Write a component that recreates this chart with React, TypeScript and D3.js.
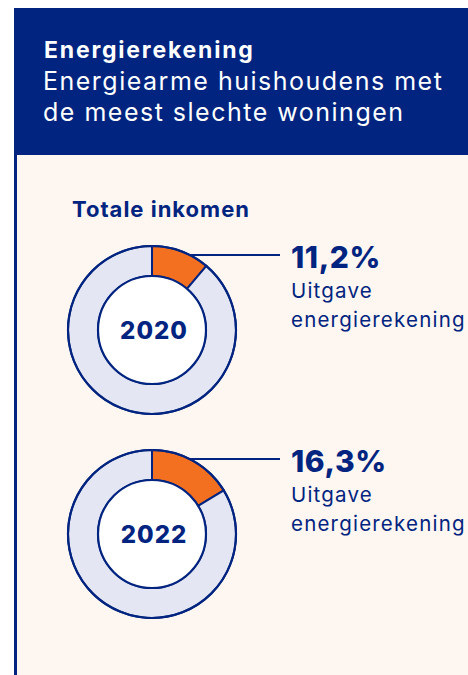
import * as React from 'react'
import * as d3 from 'd3'

// data
const years = ['2020', '2022']
const shares = [11.2, 16.3] // % of total income spent on the energy bill
const labelLines = ['Uitgave', 'energierekening']
const title = 'Energierekening'
const subtitleLines = ['Energiearme huishoudens met', 'de meest slechte woningen']
const panelTitle = 'Totale inkomen'

const W = 468
const H = 675
const NAVY = '#00247f'
const ORANGE = '#f37021'
const RING = '#e4e7f3'
const PANEL = '#fdf6f1'
const FONT = 'Inter, "Open Sans", sans-serif'

const nl = d3.formatLocale({decimal: ',', thousands: '.', grouping: [3], currency: ['€', '']})
const pct = nl.format('.1f')

export default function App() {
  const cx = 152
  const rOuter = 84
  const rInner = 54
  const y = d3.scalePoint<string>().domain(years).range([330, 534])

  const pie = d3.pie<number>().sort(null).value(d => d)
  const arc = d3.arc<d3.PieArcDatum<number>>().innerRadius(rInner).outerRadius(rOuter)

  return (
    <div style={{position: 'absolute', left: 0, top: 0}}>
      <svg width={W} height={H} style={{display: 'block', fontFamily: FONT}}>
        <rect width={W} height={H} fill="#fff" />
        {/* panel */}
        <rect x={14} y={155} width={W - 14} height={H - 155} fill={PANEL} />
        <rect x={14} y={155} width={3} height={H - 155} fill={NAVY} />
        {/* header */}
        <rect x={14} y={8} width={W - 14} height={147} fill={NAVY} />
        <text x={44} y={58} fill="#fff" fontSize={23} fontWeight={700} letterSpacing={1.8}>{title}</text>
        {subtitleLines.map((t, i) => (
          <text key={t} x={43} y={90 + i * 31} fill="#fff" fontSize={25} fontWeight={400} letterSpacing={1.5}>{t}</text>
        ))}

        <text x={72} y={217} fill={NAVY} fontSize={22} fontWeight={700} letterSpacing={1}>{panelTitle}</text>

        {years.map((yr, i) => {
          const cy = y(yr) as number
          const arcs = pie([shares[i], 100 - shares[i]])
          const lineY = cy - 75
          const lineX0 = cx + Math.sqrt(rOuter * rOuter - 75 * 75)
          return (
            <g key={yr}>
              <g transform={`translate(${cx},${cy})`}>
                {arcs.map((a, j) => (
                  <path key={j} d={arc(a) || ''} fill={j === 0 ? ORANGE : RING} stroke={NAVY} strokeWidth={2} />
                ))}
                <circle r={rOuter} fill="none" stroke={NAVY} strokeWidth={2.2} />
                <circle r={rInner} fill="#fff" stroke={NAVY} strokeWidth={2.2} />
                <text x={2} y={9} textAnchor="middle" fill={NAVY} fontSize={24} fontWeight={800} letterSpacing={1}>{yr}</text>
              </g>
              <line x1={lineX0} x2={280} y1={lineY} y2={lineY} stroke={NAVY} strokeWidth={2} />
              <text x={291} y={lineY + 13} fill={NAVY} fontSize={30} fontWeight={800} letterSpacing={0.6}>{pct(shares[i])}%</text>
              {labelLines.map((t, k) => (
                <text key={t} x={291} y={lineY + 43 + k * 29} fill={NAVY} fontSize={20.5} letterSpacing={1.2}>{t}</text>
              ))}
            </g>
          )
        })}
      </svg>
    </div>
  )
}
